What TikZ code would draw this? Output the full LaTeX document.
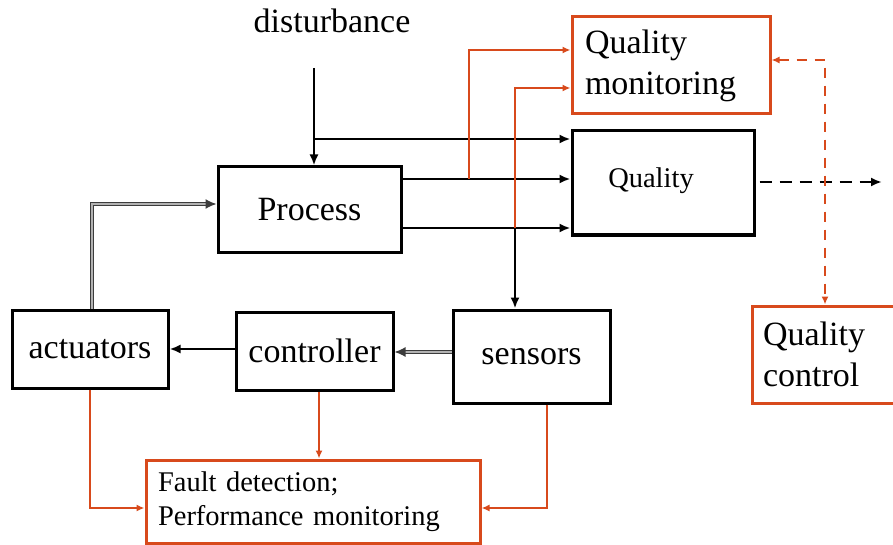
\documentclass[tikz,border=0pt]{standalone}
\usepackage{fontspec}
\setmainfont{Liberation Serif}
\usetikzlibrary{arrows.meta}
\definecolor{fdred}{RGB}{216,74,28}
\definecolor{dblgray}{RGB}{60,60,60}
\begin{document}
\begin{tikzpicture}[x=1pt,y=-1pt,
  bigfont/.style={font=\fontsize{34}{41}\selectfont},
  smallfont/.style={font=\fontsize{28.5}{34}\selectfont},
  blockbox/.style={draw=black, line width=3pt, rectangle, inner sep=0pt, bigfont},
  redbox/.style={draw=fdred, line width=3pt, rectangle, inner sep=0pt, align=left},
  conn/.style={draw=black, line width=2.4pt, -{Latex[length=11pt,width=9pt]}},
  dblconn/.style={draw=dblgray, line width=1.4pt, double=gray!60, double distance=1.2pt,
                  -{Latex[length=11pt,width=10pt]}},
  redconn/.style={draw=fdred, line width=2.4pt, -{Latex[length=8pt,width=7pt]}},
  reddash/.style={draw=fdred, line width=2.4pt, dash pattern=on 10pt off 8pt,
                  {Latex[length=8pt,width=7pt]}-{Latex[length=8pt,width=7pt]}},
  blackdash/.style={draw=black, line width=2.4pt, dash pattern=on 12pt off 8pt,
                  -{Latex[length=11pt,width=9pt]}}]
\useasboundingbox (0,0) rectangle (893,545);
\clip (0,0) rectangle (893,545);

% label of the disturbance input
\node[bigfont, anchor=base] (dist) at (332,33) {disturbance};

% plant blocks
\node[blockbox, minimum width=183, minimum height=85] (process) at (309.5,209.5) {Process};
\node[blockbox, minimum width=182, minimum height=104] (quality) at (663,183) {};
\node[smallfont] (qualitytxt) at (651,181) {Quality};
\node[blockbox, minimum width=156, minimum height=78] (actuators) at (90,349) {actuators};
\node[blockbox, minimum width=157, minimum height=78] (controller) at (314.5,351) {controller};
\node[blockbox, minimum width=157, minimum height=93] (sensors) at (531.5,356.5) {sensors};

% monitoring blocks
\node[redbox, bigfont, minimum width=198, minimum height=97, text width=172]
  (qm) at (671,65.5) {Quality\\monitoring};
\node[redbox, bigfont, minimum width=146, minimum height=97, text width=124]
  (qc) at (825,354.5) {Quality\\control};
\node[redbox, smallfont, minimum width=334, minimum height=83, text width=310]
  (fault) at (313,501.5) {Fault detection;\\Performance monitoring};

% disturbance entering the process and the quality
\coordinate (dtop) at (314,68);
\coordinate (dbranch) at (314,139);
\draw[conn] (dtop) -- (dtop |- process.north);
\draw[conn] (dbranch) -- (dbranch -| quality.west);

% process outputs
\path (process.east) ++(0,-30.5) coordinate (pout1);
\path (process.east) ++(0,18.5) coordinate (pout2);
\draw[conn] (pout1) -- (pout1 -| quality.west);
\draw[conn] (pout2) -- (pout2 -| quality.west);

% measured outputs to quality monitoring and to the sensors
\coordinate (tap1) at (469,179);
\coordinate (tap2) at (515,228);
\draw[redconn] (tap1) |- ([yshift=15.5pt]qm.west);
\draw[redconn] (tap2) |- ([yshift=-22.5pt]qm.west);
\draw[conn] (tap2) -- (tap2 |- sensors.north);

% quality output and quality control loop
\coordinate (qout) at (882,182);
\draw[blackdash] ([xshift=4pt]quality.east |- qout) -- (qout);
\draw[reddash] ([yshift=5.5pt]qm.east) -| (qc.north);

% feedback loop
\draw[dblconn] ([yshift=4.5pt]sensors.west) -- ([yshift=4.5pt]sensors.west -| controller.east);
\draw[conn] ([yshift=2pt]controller.west) -- ([yshift=2pt]controller.west -| actuators.east);
\draw[dblconn] ([xshift=2pt]actuators.north) |- ([yshift=5.5pt]process.west);

% signals to fault detection
\draw[redconn] (actuators.south) |- ([yshift=-6.5pt]fault.west);
\draw[redconn] ([xshift=4.5pt]controller.south) -- ([xshift=4.5pt]controller.south |- fault.north);
\draw[redconn] ([xshift=15.5pt]sensors.south) |- ([yshift=-6.5pt]fault.east);
\end{tikzpicture}
\end{document}
